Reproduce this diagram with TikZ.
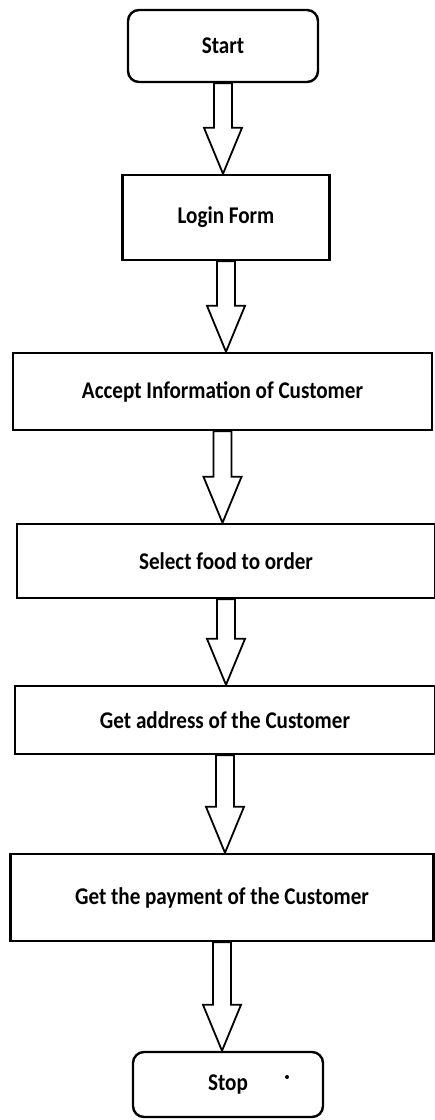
\documentclass[tikz,border=0pt]{standalone}
\usepackage{fontspec}
\setmainfont{Carlito}
\newfontfamily\boxfont[FakeStretch=0.88]{Carlito}
\usetikzlibrary{positioning,calc}
\tikzset{
    step box/.style={rectangle, draw=black, line width=2.4pt, fill=white, inner sep=0pt,
        font=\boxfont\bfseries\fontsize{24}{26}\selectfont},
    end box/.style={step box, rounded corners=11pt},
    flow arrow/.style={draw=black, line width=1.8pt, fill=white, line join=miter,
        to path={let \p1=(\tikztostart.south), \p2=(\tikztotarget.north) in
            (\x1-9pt,\y1) -- (\x1-9pt,\y2+46pt) -- (\x1-19pt,\y2+46pt) -- (\x1,\y2)
            -- (\x1+19pt,\y2+46pt) -- (\x1+9pt,\y2+46pt) -- (\x1+9pt,\y1) -- cycle}}
}
\begin{document}
\begin{tikzpicture}[x=1pt, y=-1pt]
    \useasboundingbox (0,0) rectangle (435,1120);

    % Terminals and steps
    \node[end box, minimum width=190pt, minimum height=72pt] (start) at (223,46) {Start};
    \node[step box, minimum width=207pt, minimum height=85pt] (login) at (226,217.5) {Login Form};
    \node[step box, minimum width=419pt, minimum height=77pt] (accept) at (222.5,391.5) {Accept Information of Customer};
    \node[step box, minimum width=418pt, minimum height=74pt] (select) at (226,561) {Select food to order};
    \node[step box, minimum width=420pt, minimum height=68pt] (address) at (225,720) {Get address of the Customer};
    \node[step box, minimum width=423pt, minimum height=87pt] (payment) at (222,897.5) {Get the payment of the Customer};
    \node[end box, minimum width=190pt, minimum height=65pt] (stop) at (228,1084.5) {Stop};
    \fill (287,1077) circle (2pt);

    % Block arrows
    \draw[flow arrow] (start) to (login);
    \draw[flow arrow] (login) to (accept);
    \draw[flow arrow] (accept) to (select);
    \draw[flow arrow] (select) to (address);
    \draw[flow arrow] (address) to (payment);
    \draw[flow arrow] (payment) to (stop);
\end{tikzpicture}
\end{document}
